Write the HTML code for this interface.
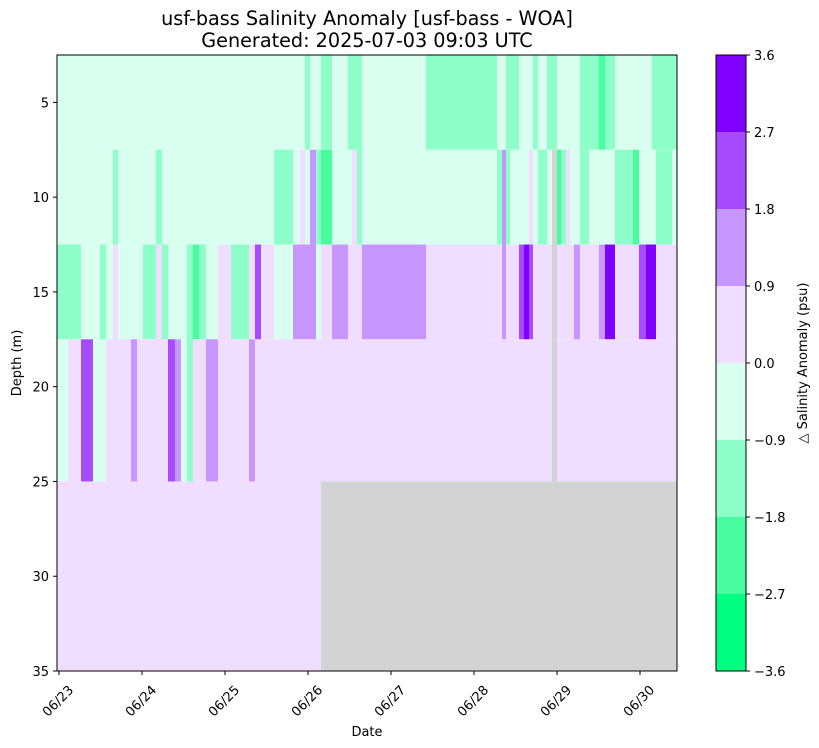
<!DOCTYPE html>
<html><head><meta charset="utf-8"><style>
body{margin:0;background:#fff;}
svg{display:block;font-family:"DejaVu Sans","Liberation Sans",sans-serif;}
</style></head><body>
<svg id="chart" width="819" height="748" viewBox="0 0 819 748">
<text x="367" y="25" text-anchor="middle" font-size="19.2">usf-bass Salinity Anomaly [usf-bass - WOA]</text>
<text x="367" y="47" text-anchor="middle" font-size="19.2">Generated: 2025-07-03 09:03 UTC</text>
<g id="cells"></g>
<rect x="57" y="55" width="620" height="616" fill="none" stroke="#000" stroke-width="1"/>
<g id="xaxis"></g>
<g id="yaxis"></g>
<text x="367" y="736" text-anchor="middle" font-size="13">Date</text>
<text transform="translate(21,363) rotate(-90)" text-anchor="middle" font-size="13">Depth (m)</text>
<g id="cbar"></g>
<text transform="translate(807,363) rotate(-90)" text-anchor="middle" font-size="13">△ Salinity Anomaly (psu)</text>
</svg>
<script>
const depthEdges=[2.5,7.5,12.5,17.5,25,35];
const rowStarts=[
[-0.58,71.13,72.58,75.76,78.94,83.57,87.61,106.12,126.65,129.25,133.01,137.06,138.51,141.11,144.0,150.65,156.14,157.88,160.77,171.47],
[-0.58,15.61,17.06,28.05,29.78,62.17,67.66,69.69,71.13,72.58,74.31,75.76,78.94,84.72,86.17,87.61,126.65,128.1,129.25,130.41,135.9,137.06,138.51,141.11,142.55,144.0,145.16,146.6,147.76,150.65,153.25,160.77,165.98,167.71,172.63,177.25],
[-0.58,6.36,11.86,13.59,15.61,17.06,24.29,28.05,29.78,31.52,37.01,38.75,40.48,42.51,45.98,49.74,54.94,56.67,58.41,62.17,67.66,74.31,75.76,78.94,83.57,87.61,106.12,128.1,129.25,133.01,134.46,135.9,137.06,142.55,144.0,148.92,150.65,156.14,157.88,160.77,167.71,169.73,172.63],
[-0.58,2.6,6.36,9.83,13.59,20.82,22.55,31.52,33.54,35.28,37.01,38.75,42.51,45.98,54.94,56.67,142.55,144.0],
[-0.58,75.76]
];
const rowValues=[
[-0.5,-1.3,-0.5,-1.3,-0.5,-1.3,-0.5,-1.3,-0.5,-1.3,-0.5,-1.3,-0.5,-1.3,-0.5,-1.3,-2.2,-1.3,-0.5,-1.3],
[-0.5,-1.3,-0.5,-1.3,-0.5,-1.3,-0.5,0.5,-0.5,1.3,-1.3,-2.2,-0.5,0.5,-1.3,-0.5,-1.3,1.3,-1.3,-0.5,0.5,-0.5,-1.3,-0.5,null,-2.2,-1.3,0.5,-0.5,-1.3,-0.5,-1.3,-2.2,-0.5,-1.3,-0.5],
[-1.3,-0.5,-1.3,-0.5,0.5,-0.5,-1.3,0.5,-1.3,-0.5,-1.3,-2.2,-1.3,-0.5,0.5,-1.3,0.5,2.2,0.5,-0.5,1.3,-0.5,0.5,1.3,0.5,1.3,0.5,1.3,0.5,2.2,3.0,2.2,0.5,null,0.5,1.3,0.5,1.3,3.0,0.5,2.2,3.0,0.5],
[-0.5,0.5,2.2,-0.5,0.5,1.3,0.5,2.2,1.3,-0.5,-1.3,0.5,1.3,0.5,1.3,0.5,null,0.5],
[0.5,null]
];
const xTickLabels=["06/23","06/24","06/25","06/26","06/27","06/28","06/29","06/30"];
const yTickValues=[5,10,15,20,25,30,35];
const levels=[-3.6,-2.7,-1.8,-0.9,0,0.9,1.8,2.7,3.6];
const levelColors=["#00ff80","#48fda0","#8effc8","#d8fff0","#efdeff","#c896ff","#a74bff","#8000ff"];
const hMin=-0.58,hMax=178.7;
const xs=h=>59+h*83/24;
const ys=d=>55+(d-2.5)*616/32.5;
function color(v){if(v===null)return"#d3d3d3";for(let i=0;i<8;i++){if(v<levels[i+1])return levelColors[i];}return levelColors[7];}
const NS="http://www.w3.org/2000/svg";
const cells=document.getElementById('cells');
rowStarts.forEach((starts,r)=>{
  starts.forEach((s,i)=>{
    const e=i+1<starts.length?starts[i+1]:hMax;
    const rc=document.createElementNS(NS,'rect');
    rc.setAttribute('x',xs(s));rc.setAttribute('width',xs(e)-xs(s)+0.3);
    rc.setAttribute('y',ys(depthEdges[r]));rc.setAttribute('height',ys(depthEdges[r+1])-ys(depthEdges[r]));
    rc.setAttribute('fill',color(rowValues[r][i]));
    
    
    cells.appendChild(rc);
  });
});
const xa=document.getElementById('xaxis');
xTickLabels.forEach((lab,i)=>{
  const x=xs(i*24);
  const t=document.createElementNS(NS,'line');
  t.setAttribute('x1',x);t.setAttribute('x2',x);t.setAttribute('y1',671);t.setAttribute('y2',675);t.setAttribute('stroke','#000');
  
  
  xa.appendChild(t);
  const tx=document.createElementNS(NS,'text');
  tx.setAttribute('transform',`translate(${x+2},${704}) rotate(-45)`);
  tx.setAttribute('text-anchor','middle');tx.setAttribute('font-size','13');tx.textContent=lab;
  
  
  xa.appendChild(tx);
});
const ya=document.getElementById('yaxis');
yTickValues.forEach(v=>{
  const y=Math.min(ys(v),671);
  const t=document.createElementNS(NS,'line');
  t.setAttribute('x1',53);t.setAttribute('x2',57);t.setAttribute('y1',y);t.setAttribute('y2',y);t.setAttribute('stroke','#000');
  
  
  ya.appendChild(t);
  const tx=document.createElementNS(NS,'text');
  tx.setAttribute('x',49);tx.setAttribute('y',y+5);tx.setAttribute('text-anchor','end');tx.setAttribute('font-size','13');tx.textContent=v;
  
  
  ya.appendChild(tx);
});
const cb=document.getElementById('cbar');
const cbY=v=>671-(v+3.6)/7.2*616;
levelColors.forEach((c,i)=>{
  const rc=document.createElementNS(NS,'rect');
  rc.setAttribute('x',716);rc.setAttribute('width',30);
  rc.setAttribute('y',cbY(levels[i+1]));rc.setAttribute('height',cbY(levels[i])-cbY(levels[i+1]));
  rc.setAttribute('fill',c);
  
  
  cb.appendChild(rc);
});
levels.forEach(v=>{
  const y=cbY(v);
  const t=document.createElementNS(NS,'line');
  t.setAttribute('x1',746);t.setAttribute('x2',750);t.setAttribute('y1',y);t.setAttribute('y2',y);t.setAttribute('stroke','#000');
  
  
  cb.appendChild(t);
  const tx=document.createElementNS(NS,'text');
  tx.setAttribute('x',754);tx.setAttribute('y',y+5);tx.setAttribute('font-size','13');
  tx.textContent=(v<0?'\u2212':'')+Math.abs(v).toFixed(1);
  
  
  cb.appendChild(tx);
});
const fr=document.createElementNS(NS,'rect');
fr.setAttribute('x',716);fr.setAttribute('y',55);fr.setAttribute('width',30);fr.setAttribute('height',616);
fr.setAttribute('fill','none');fr.setAttribute('stroke','#000');


cb.appendChild(fr);
</script>
</body></html>
